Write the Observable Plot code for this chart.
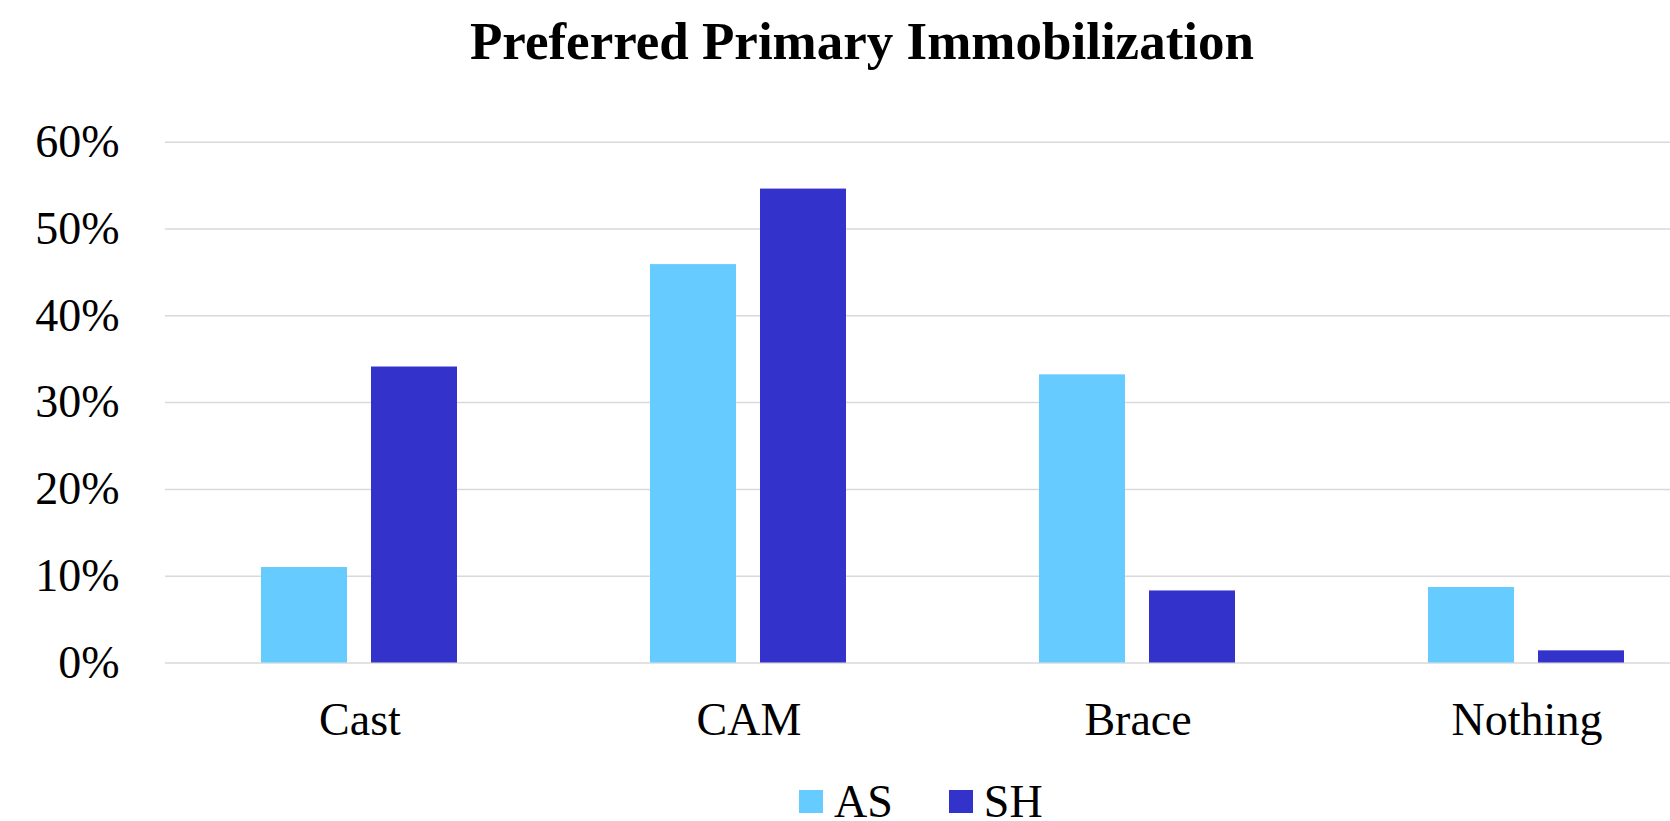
<!DOCTYPE html>
<html>
<head>
<meta charset="utf-8">
<script src="https://cdn.jsdelivr.net/npm/d3@7"></script>
<script src="https://cdn.jsdelivr.net/npm/@observablehq/plot@0.6"></script>
<style>
  html, body { margin: 0; padding: 0; background: #fff; overflow: hidden; }
  body { width: 1670px; height: 821px; position: relative; font-family: "Liberation Serif", "Times New Roman", serif; }
  #title { position: absolute; left: 0; top: 14.6px; width: 1724px; text-align: center; font-size: 53px; line-height: 53px; font-weight: bold; color: #000; }
  #chart { position: absolute; left: 0; top: 80px; }
  #legend { position: absolute; left: 799px; top: 784px; height: 36px; font-size: 46px; line-height: 36px; white-space: nowrap; color: #000; }
  .sw { display: inline-block; width: 24px; height: 23px; margin-right: 11px; vertical-align: 3.7px; }
  .item { display: inline-block; line-height: 36px; height: 36px; }
  .item + .item { margin-left: 56px; }
</style>
</head>
<body>
<div id="title">Preferred Primary Immobilization</div>
<div id="chart"></div>
<div id="legend"></div>
<script>
const categories = ["Cast", "CAM", "Brace", "Nothing"];
const series = ["AS", "SH"];
const asValues = [11.0, 45.9, 33.2, 8.7];
const shValues = [34.1, 54.6, 8.3, 1.4];
const seriesColors = ["#66CCFF", "#3333CC"];
const yTicks = [0, 10, 20, 30, 40, 50, 60];

const data = [];
categories.forEach((c, i) => {
  data.push({category: c, series: series[0], value: asValues[i]});
  data.push({category: c, series: series[1], value: shValues[i]});
});

const chart = Plot.plot({
  width: 1670,
  height: 670,
  marginLeft: 163,
  marginRight: 0,
  marginTop: 61.7,
  marginBottom: 87.5,
  style: {fontFamily: '"Liberation Serif", "Times New Roman", serif', fontSize: "46px", color: "#000", background: "transparent", overflow: "hidden"},
  fx: {domain: categories, range: [163, 1722.4], padding: 0, label: null, tickSize: 0, tickPadding: 39, axis: "bottom"},
  x: {domain: series, paddingInner: 0.216, paddingOuter: 0.865, axis: null},
  y: {domain: [0, 60], ticks: yTicks, tickFormat: d => d + "%", tickSize: 0, tickPadding: 46, label: null},
  color: {domain: series, range: seriesColors},
  marks: [
    Plot.ruleY(yTicks, {stroke: "#d9d9d9", strokeWidth: 1.5}),
    Plot.barY(data, {fx: "category", x: "series", y: "value", fill: "series"})
  ]
});
document.getElementById("chart").appendChild(chart);

const colorScale = chart.scale("color");
const legend = document.getElementById("legend");
series.forEach(s => {
  const item = document.createElement("span");
  item.className = "item";
  const sw = document.createElement("span");
  sw.className = "sw";
  sw.style.background = colorScale.apply(s);
  item.appendChild(sw);
  const label = document.createElement("span");
  label.textContent = s;
  item.appendChild(label);
  legend.appendChild(item);
});
</script>
</body>
</html>
